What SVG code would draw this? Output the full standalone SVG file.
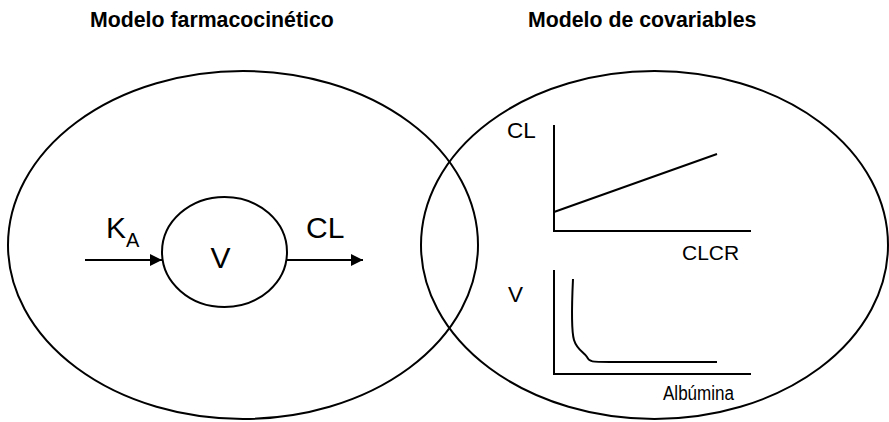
<svg xmlns="http://www.w3.org/2000/svg" width="889" height="422" viewBox="0 0 889 422">
  <defs>
    <style>
      .t { font-family: "Liberation Sans", Arial, sans-serif; fill: #000; }
      .title { font-weight: bold; font-size: 21.3px; }
      .ln { stroke: #000; stroke-width: 2; fill: none; }
    </style>
    <marker id="arr" viewBox="0 0 10 10" refX="10" refY="5" markerWidth="15" markerHeight="12" markerUnits="userSpaceOnUse" orient="auto">
      <path d="M0,0 L10,5 L0,10 z" fill="#000"/>
    </marker>
  </defs>
  <rect width="889" height="422" fill="#fff"/>

  <g id="titles">
    <text class="t title" x="90" y="27">Modelo farmacocinético</text>
    <text class="t title" x="528" y="27">Modelo de covariables</text>
  </g>

  <g id="pk-model">
    <ellipse class="ln" cx="243" cy="245" rx="235" ry="174"/>
  </g>

  <g id="cov-model">
    <ellipse class="ln" cx="654.5" cy="245" rx="233.5" ry="174"/>
  </g>

  <g id="compartment-V">
    <ellipse class="ln" cx="224.5" cy="252" rx="62.5" ry="55"/>
    <text class="t" x="220.5" y="268" font-size="30" text-anchor="middle">V</text>
  </g>

  <g id="label-KA">
    <text class="t" x="106" y="238" font-size="30">K<tspan font-size="20" dy="9">A</tspan></text>
  </g>

  <g id="label-CL">
    <text class="t" x="306" y="238" font-size="30">CL</text>
  </g>

  <g id="connectors">
    <line class="ln" x1="85" y1="260" x2="162" y2="260" marker-end="url(#arr)"/>
    <line class="ln" x1="287" y1="260" x2="363" y2="260" marker-end="url(#arr)"/>
  </g>

  <g id="chart-CL-CLCR">
    <polyline class="ln" points="554,125 554,231 751,231"/>
    <line class="ln" x1="554" y1="212" x2="717" y2="154"/>
    <text class="t" x="507" y="138" font-size="22.5">CL</text>
    <text class="t" x="682" y="260" font-size="21">CLCR</text>
  </g>

  <g id="chart-V-Alb">
    <polyline class="ln" points="554,270 554,374 751,374"/>
    <path class="ln" d="M573,279 C572,300 571,330 574,340 C577,350 584,352 587,357 C589,362 592,362 610,362 L717,362"/>
    <text class="t" x="508" y="302" font-size="22.5">V</text>
    <text class="t" x="663" y="400" font-size="19.5" textLength="71" lengthAdjust="spacingAndGlyphs">Albúmina</text>
  </g>
</svg>
